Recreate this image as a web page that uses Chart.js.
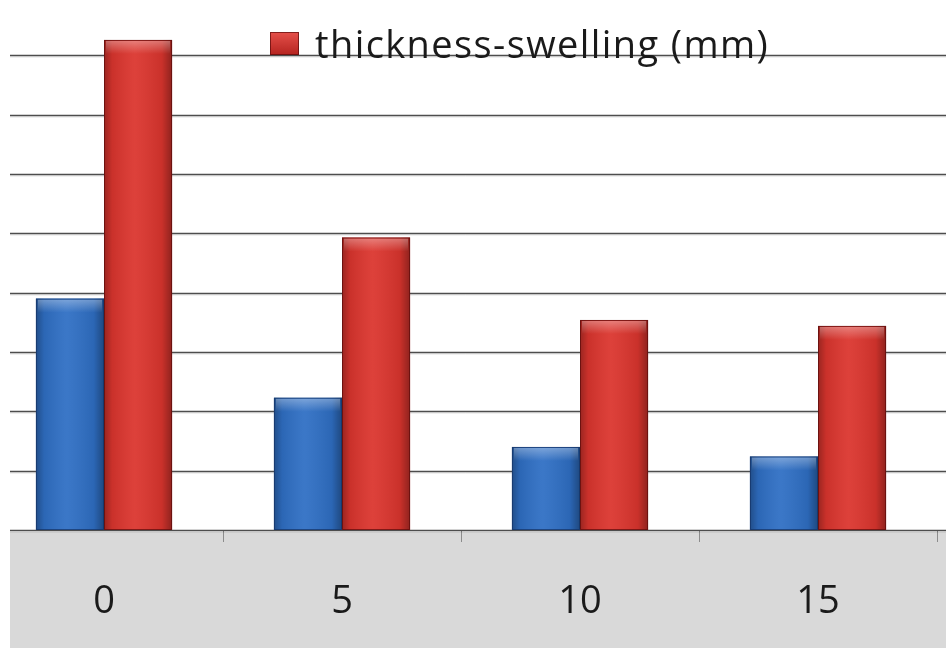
<!DOCTYPE html>
<html>
<head>
<meta charset="utf-8">
<script src="https://cdn.jsdelivr.net/npm/chart.js@4/dist/chart.umd.min.js"></script>
<style>
  html, body { margin: 0; padding: 0; background: #fff; }
  body { width: 946px; height: 648px; position: relative; overflow: hidden; }
  #frame { position: absolute; left: 10px; top: 0; width: 936px; height: 648px; overflow: hidden; }
  #box { position: absolute; left: -25px; top: -4px; width: 961px; height: 652px; }
</style>
</head>
<body>
<div id="frame"><div id="box"><canvas id="c"></canvas></div></div>
<script>
// Immersion time categories
const categories = ['0', '5', '10', '15'];
// Blue series
const blueValues = [3.90, 2.23, 1.40, 1.24];
// Red series: thickness swelling
const redValues = [8.26, 4.93, 3.54, 3.44];
const redLabel = 'thickness-swelling (mm)';
const yMin = 0, yMax = 9, yStep = 1;

const FONT = '"Open Sans", "DejaVu Sans", sans-serif';

// Gray band under the category axis
const bandPlugin = {
  id: 'band',
  beforeDraw(chart) {
    const { ctx, chartArea, width, height } = chart;
    ctx.save();
    ctx.fillStyle = '#d9d9d9';
    ctx.fillRect(0, chartArea.bottom + 2, width, height - chartArea.bottom - 2);
    ctx.restore();
  }
};

// Horizontal gridlines running to the right edge of the canvas
const gridPlugin = {
  id: 'hgrid',
  beforeDatasetsDraw(chart) {
    const { ctx, chartArea, width } = chart;
    const y = chart.scales.y;
    ctx.save();
    for (let v = yMin; v <= yMax; v += yStep) {
      const py = Math.round(y.getPixelForValue(v)) + 0.5;
      ctx.strokeStyle = 'rgba(0,0,0,0.12)';
      ctx.lineWidth = 1;
      ctx.beginPath(); ctx.moveTo(chartArea.left, py + 1.5); ctx.lineTo(width, py + 1.5); ctx.stroke();
      ctx.strokeStyle = '#4d4d4d';
      ctx.lineWidth = 1.4;
      ctx.beginPath(); ctx.moveTo(chartArea.left, py); ctx.lineTo(width, py); ctx.stroke();
    }
    ctx.restore();
  }
};

// Cylinder-like shading on each bar
const shadePlugin = {
  id: 'shade',
  afterDatasetsDraw(chart) {
    const { ctx } = chart;
    ctx.save();
    chart.data.datasets.forEach((ds, di) => {
      const meta = chart.getDatasetMeta(di);
      meta.data.forEach(el => {
        const l = el.x - el.width / 2, r = el.x + el.width / 2;
        const t = el.y, b = el.base;
        const g = ctx.createLinearGradient(l, 0, r, 0);
        g.addColorStop(0, 'rgba(0,0,0,0.30)');
        g.addColorStop(0.12, 'rgba(0,0,0,0.08)');
        g.addColorStop(0.45, 'rgba(255,255,255,0.06)');
        g.addColorStop(0.85, 'rgba(0,0,0,0.08)');
        g.addColorStop(1, 'rgba(0,0,0,0.35)');
        ctx.fillStyle = g;
        ctx.fillRect(l, t, r - l, b - t);
        const cap = Math.min(14, (b - t) / 3);
        const g2 = ctx.createLinearGradient(0, t, 0, t + cap);
        g2.addColorStop(0, 'rgba(255,255,255,0.35)');
        g2.addColorStop(1, 'rgba(255,255,255,0)');
        ctx.fillStyle = g2;
        ctx.fillRect(l + 2, t + 1, r - l - 4, cap);
        ctx.strokeStyle = di === 0 ? 'rgba(20,50,100,0.7)' : 'rgba(90,10,10,0.7)';
        ctx.lineWidth = 1;
        ctx.strokeRect(l + 0.5, t + 0.5, r - l - 1, b - t - 1);
      });
    });
    ctx.restore();
  }
};

// Legend entry for the red series
const legendPlugin = {
  id: 'legendBox',
  afterDraw(chart) {
    const { ctx } = chart;
    const ds = chart.data.datasets[1];
    ctx.save();
    const sx = 285, sy = 36, sw = 29, sh = 23;
    const g = ctx.createLinearGradient(0, sy, 0, sy + sh);
    g.addColorStop(0, '#e5504a');
    g.addColorStop(1, '#b52420');
    ctx.fillStyle = g;
    ctx.fillRect(sx, sy, sw, sh);
    ctx.strokeStyle = 'rgba(90,10,10,0.7)';
    ctx.strokeRect(sx + 0.5, sy + 0.5, sw - 1, sh - 1);
    ctx.fillStyle = '#1a1a1a';
    ctx.font = '38px ' + FONT;
    ctx.letterSpacing = '1.4px';
    ctx.textBaseline = 'alphabetic';
    ctx.fillText(ds.label, 330, 62);
    ctx.restore();
  }
};

new Chart(document.getElementById('c'), {
  type: 'bar',
  data: {
    labels: categories,
    datasets: [
      { label: 'series A', data: blueValues, backgroundColor: '#2f6fc4', borderWidth: 0 },
      { label: redLabel, data: redValues, backgroundColor: '#db352e', borderWidth: 0 }
    ]
  },
  options: {
    responsive: true,
    maintainAspectRatio: false,
    animation: false,
    devicePixelRatio: 1,
    categoryPercentage: 0.572,
    barPercentage: 1.0,
    layout: { padding: { left: 0, right: 9, top: 0, bottom: 0 } },
    plugins: { legend: { display: false }, tooltip: { enabled: false } },
    scales: {
      y: {
        display: false,
        min: yMin, max: yMax,
        ticks: { stepSize: yStep }
      },
      x: {
        afterFit(scale) { scale.height = 118; },
        border: { display: false },
        grid: { offset: true, drawOnChartArea: false, drawTicks: true, tickLength: 12, color: '#8c8c8c', lineWidth: 1 },
        ticks: { color: '#1a1a1a', font: { family: FONT, size: 38 }, padding: 37 }
      }
    }
  },
  plugins: [bandPlugin, gridPlugin, shadePlugin, legendPlugin]
});
</script>
</body>
</html>
